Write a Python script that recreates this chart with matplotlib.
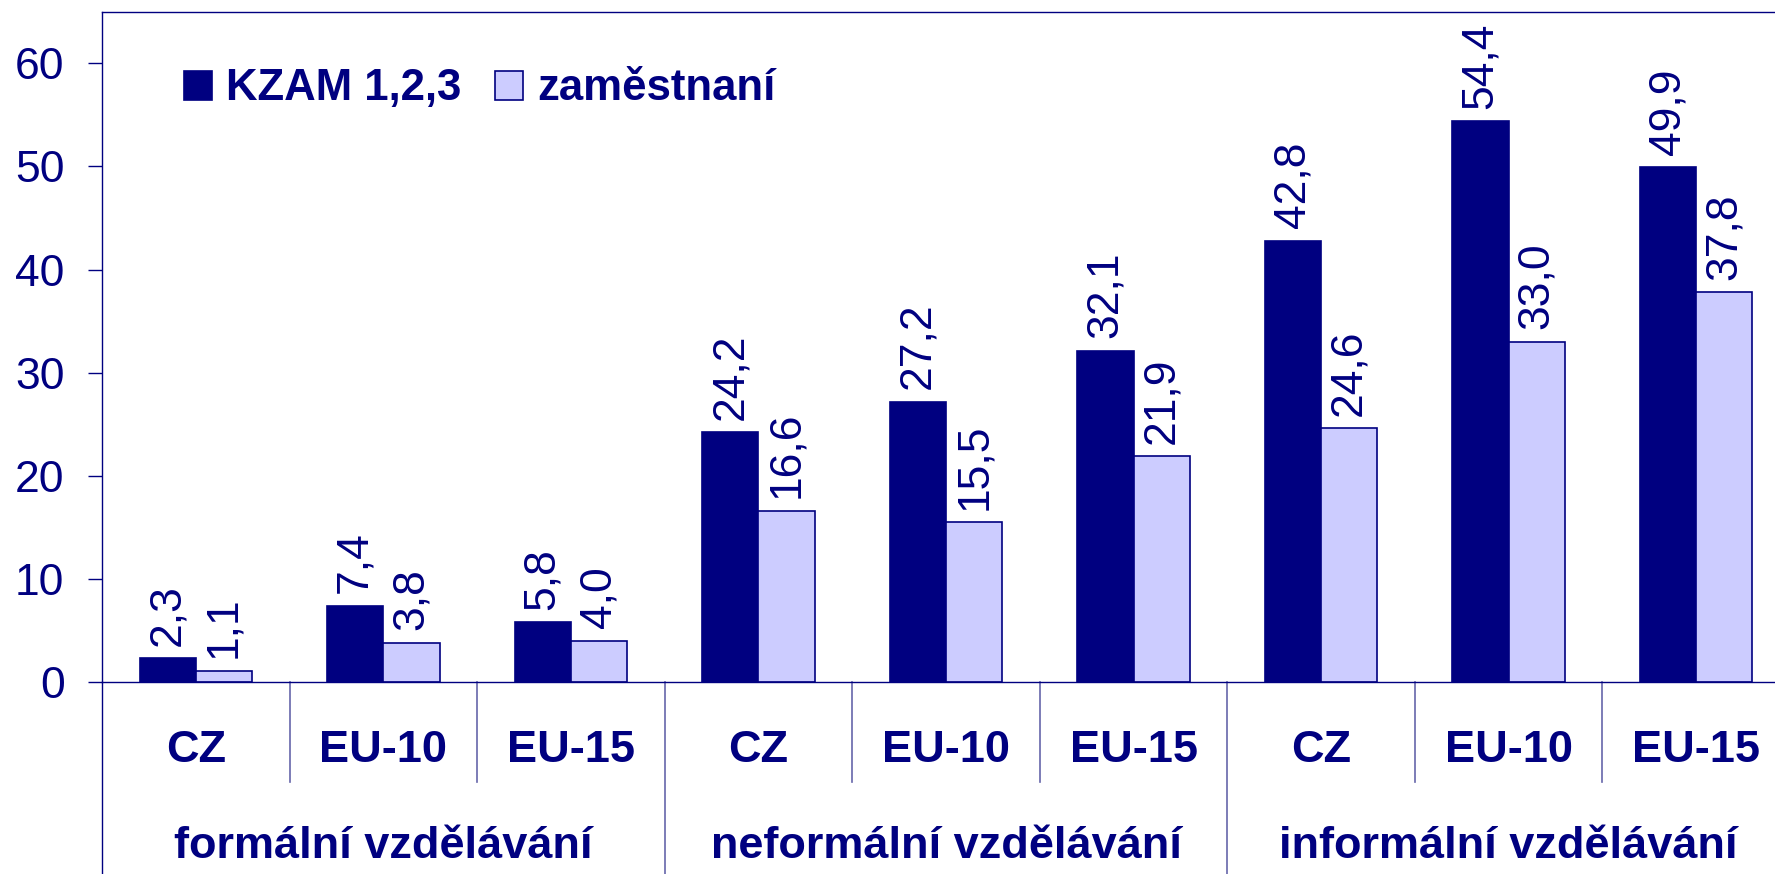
import matplotlib
matplotlib.use('Agg')
import matplotlib.pyplot as plt
from matplotlib.patches import Patch
from matplotlib.transforms import blended_transform_factory

plt.rcParams['font.family'] = ['Liberation Sans', 'DejaVu Sans']

NAVY = '#000080'
LIGHT = '#CCCCFF'
SEP = '#6666AA'

regions = ['CZ', 'EU-10', 'EU-15'] * 3
groups = ['formální vzdělávání', 'neformální vzdělávání', 'informální vzdělávání']
series_names = ['KZAM 1,2,3', 'zaměstnaní']
kzam = [2.3, 7.4, 5.8, 24.2, 27.2, 32.1, 42.8, 54.4, 49.9]
zam = [1.1, 3.8, 4.0, 16.6, 15.5, 21.9, 24.6, 33.0, 37.8]


def fmt(v):
    return f'{v:.1f}'.replace('.', ',')


def main():
    fig = plt.figure(figsize=(17.75, 8.74), dpi=100)
    ax = fig.add_axes([102 / 1775, 192 / 874, 1688 / 1775, 670.3 / 874])

    x = list(range(len(regions)))
    w = 0.3
    b1 = ax.bar([i - w / 2 for i in x], kzam, w, color=NAVY,
                edgecolor=NAVY, linewidth=1.2, label=series_names[0])
    b2 = ax.bar([i + w / 2 for i in x], zam, w, color=LIGHT,
                edgecolor=NAVY, linewidth=1.2, label=series_names[1])

    for bars, vals in ((b1, kzam), (b2, zam)):
        for r, v in zip(bars, vals):
            ax.annotate(fmt(v), (r.get_x() + r.get_width() / 2, v),
                        xytext=(0, 9), textcoords='offset points',
                        rotation=90, ha='center', va='bottom',
                        fontsize=32, color=NAVY)

    ax.set_xlim(-0.5, len(regions) - 0.5)
    ax.set_ylim(0, 65)
    ax.set_yticks(range(0, 61, 10))
    ax.tick_params(axis='y', direction='out', length=10, width=1,
                   color=NAVY, labelcolor=NAVY, labelsize=32, pad=17)
    ax.tick_params(axis='x', bottom=False, labelbottom=False)
    for s in ('left', 'top', 'bottom'):
        ax.spines[s].set_color(NAVY)
        ax.spines[s].set_linewidth(1.0)
    ax.spines['right'].set_visible(False)

    # category labels below the axis
    tr = blended_transform_factory(ax.transData, ax.transAxes)
    for i, lab in enumerate(regions):
        ax.text(i, -0.1025, lab, transform=tr, ha='center', va='center',
                fontsize=32.5, fontweight='bold', color=NAVY)
    for g, lab in enumerate(groups):
        ax.text(3 * g + 1, -0.246, lab, transform=tr, ha='center',
                va='center', fontsize=32.5, fontweight='bold', color=NAVY)
    for i in range(1, len(regions)):
        bottom = -0.3 if i % 3 == 0 else -0.149
        ax.plot([i - 0.5, i - 0.5], [0, bottom], transform=tr,
                color=SEP, lw=1.2, clip_on=False)
    ax.plot([-0.5, -0.5], [0, -0.3], transform=tr, color=NAVY, lw=1.0,
            clip_on=False)

    handles = [Patch(facecolor=NAVY, edgecolor=NAVY, linewidth=1.2),
               Patch(facecolor=LIGHT, edgecolor=NAVY, linewidth=1.2)]
    leg = ax.legend(handles, series_names, ncol=2, frameon=False,
                    loc='center left', bbox_to_anchor=(0.0486, 0.8847),
                    borderaxespad=0, borderpad=0, handlelength=0.64,
                    handleheight=0.64, handletextpad=0.33,
                    columnspacing=0.75,
                    prop={'size': 31.5, 'weight': 'bold'})
    for t in leg.get_texts():
        t.set_color(NAVY)

    fig.savefig('out.png', dpi=100)


if __name__ == '__main__':
    main()
